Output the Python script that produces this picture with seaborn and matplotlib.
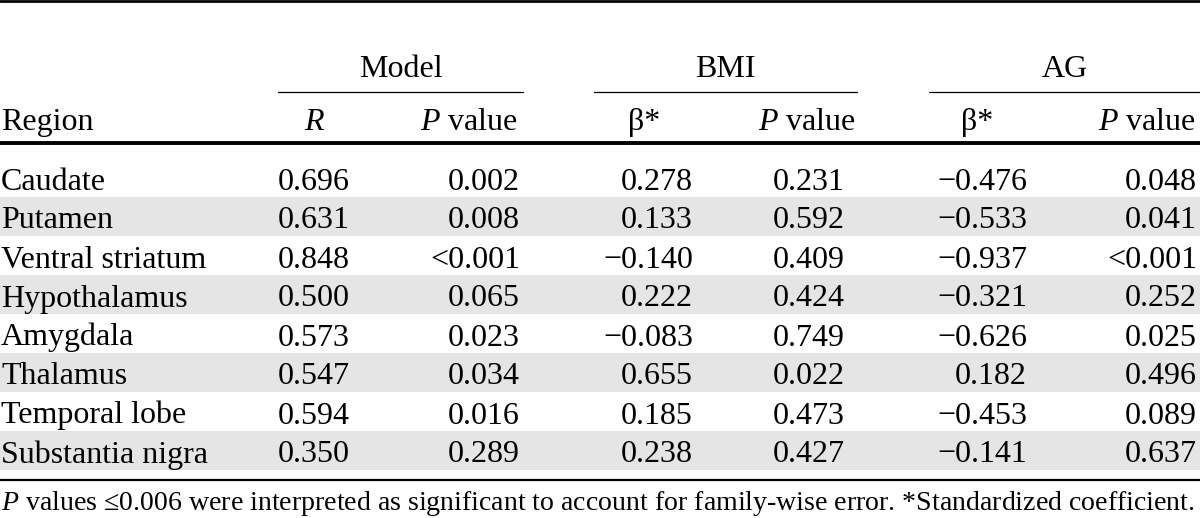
import matplotlib
matplotlib.use("Agg")
import matplotlib.pyplot as plt
from matplotlib.colors import ListedColormap
import numpy as np
import seaborn as sns

# --- données du tableau ---
regions = ["Caudate", "Putamen", "Ventral striatum", "Hypothalamus",
           "Amygdala", "Thalamus", "Temporal lobe", "Substantia nigra"]
model_r = [0.696, 0.631, 0.848, 0.500, 0.573, 0.547, 0.594, 0.350]
model_p = ["0.002", "0.008", "<0.001", "0.065", "0.023", "0.034", "0.016", "0.289"]
bmi_beta = [0.278, 0.133, -0.140, 0.222, -0.083, 0.655, 0.185, 0.238]
bmi_p = ["0.231", "0.592", "0.409", "0.424", "0.749", "0.022", "0.473", "0.427"]
ag_beta = [-0.476, -0.533, -0.937, -0.321, -0.626, 0.182, -0.453, -0.141]
ag_p = ["0.048", "0.041", "<0.001", "0.252", "0.025", "0.496", "0.089", "0.637"]

groups = ["Model", "BMI", "AG"]
subheads = [r"$R$", r"$P$ value", "β*", r"$P$ value", "β*", r"$P$ value"]
footnote = (r"$P$ values ≤0.006 were interpreted as significant to account for "
            "family-wise error. *Standardized coefficient.")

sns.set_theme(style="white")
plt.rcParams["font.family"] = ["Liberation Serif", "DejaVu Serif"]
plt.rcParams["mathtext.fontset"] = "custom"
plt.rcParams["mathtext.rm"] = "Liberation Serif"
plt.rcParams["mathtext.it"] = "Liberation Serif:italic"

W, H = 1200, 518
fig = plt.figure(figsize=(12, 5.18), dpi=100)

# bandes grises une ligne sur deux (heatmap seaborn)
top_body, row_h = 158, 39
n = len(regions)
body = fig.add_axes([0, 1 - (top_body + n * row_h) / H, 1, n * row_h / H])
stripes = np.array([[i % 2] for i in range(n)])
sns.heatmap(stripes, cmap=ListedColormap(["white", "#e5e5e5"]), cbar=False,
            xticklabels=False, yticklabels=False, ax=body, vmin=0, vmax=1)
body.axis("off")

ax = fig.add_axes([0, 0, 1, 1])
ax.set_xlim(0, W)
ax.set_ylim(H, 0)
ax.axis("off")
ax.patch.set_alpha(0)

fs = 23
txt = dict(fontsize=fs, color="black", va="baseline")

# filets
ax.plot([0, W], [1.2, 1.2], color="black", lw=2.0)
ax.plot([0, W], [142.5, 142.5], color="black", lw=2.8)
ax.plot([0, W], [479.5, 479.5], color="black", lw=1.6)

# en-têtes de groupes
spans = [(278, 523), (594, 857), (929, 1200)]
for g, (x0, x1) in zip(groups, spans):
    ax.text((x0 + x1) / 2, 77, g, ha="center", **txt)
    ax.plot([x0, x1], [92, 92], color="black", lw=0.9)

ax.text(1, 130, "Region", ha="left", **txt)
head_x = [(315, "center"), (518, "right"), (644, "center"),
          (856, "right"), (977, "center"), (1196, "right")]
for s, (x, ha) in zip(subheads, head_x):
    ax.text(x, 130, s, ha=ha, **txt)

def fmt(v):
    return f"{v:.3f}".replace("-", "\u2212")

col_x = [350, 520, 693, 845, 1027, 1197]
for i in range(n):
    yb = top_body + row_h * (i + 0.5) + 12
    ax.text(1, yb, regions[i], ha="left", **txt)
    cells = [fmt(model_r[i]), model_p[i], fmt(bmi_beta[i]), bmi_p[i],
             fmt(ag_beta[i]), ag_p[i]]
    for x, c in zip(col_x, cells):
        ax.text(x, yb, c, ha="right", **txt)

ax.text(1, 510, footnote, ha="left", fontsize=20.1, color="black", va="baseline")

fig.savefig("out.png", dpi=100)
